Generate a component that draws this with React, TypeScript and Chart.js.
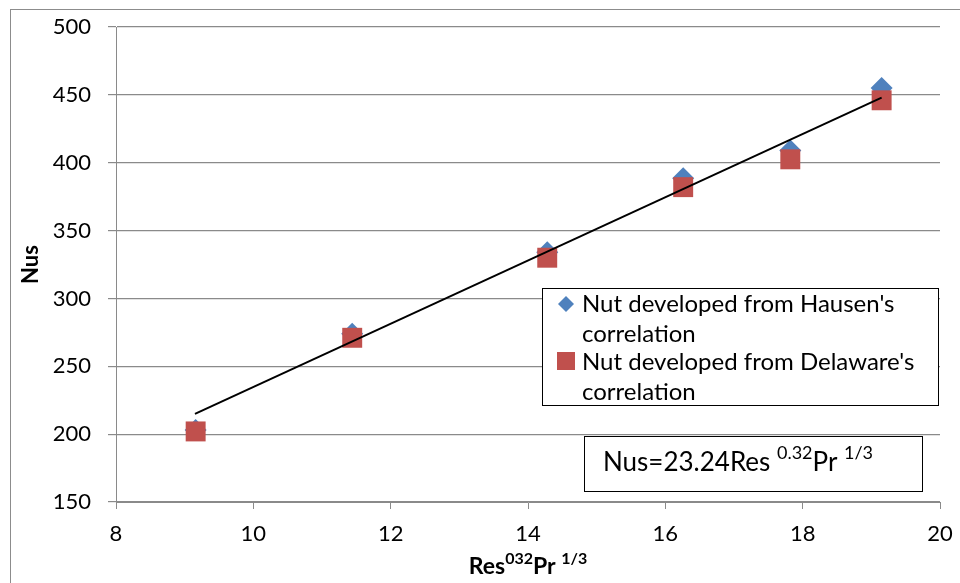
import React, { useEffect, useRef } from "react";
import { Chart, registerables } from "chart.js";

Chart.register(...registerables);

// ---- data ----
const xValues = [9.16, 11.44, 14.28, 16.26, 17.82, 19.15];
const hausenNus = [203, 274, 334, 388.5, 409, 455];
const delawareNus = [202, 271, 330, 382, 402.5, 446];
const trendX = [9.15, 19.15];
const trendNus = [215, 448];
const xMin = 8;
const xMax = 20;
const xStep = 2;
const yMin = 150;
const yMax = 500;
const yStep = 50;
const seriesNames = ["Nut developed from Hausen's", "Nut developed from Delaware's"];
const seriesNames2 = ["correlation", "correlation"];
const equationParts = ["Nus=23.24Res ", "0.32", "Pr ", "1/3"];
const xTitleParts = ["Res", "032", "Pr ", "1/3"];
const yTitle = "Nus";

const BLUE = "#4F81BD";
const RED = "#C0504D";
const GRID = "#8a8a8a";
const FONT = "Lato, 'Liberation Sans', sans-serif";

type Part = { text: string; size: number; rise: number; bold?: boolean };

function richWidth(ctx: CanvasRenderingContext2D, parts: Part[]) {
  let w = 0;
  for (const p of parts) {
    ctx.font = `${p.bold ? "bold " : ""}${p.size}px ${FONT}`;
    w += ctx.measureText(p.text).width;
  }
  return w;
}

function drawRich(ctx: CanvasRenderingContext2D, x: number, baseline: number, parts: Part[]) {
  let cx = x;
  ctx.textBaseline = "alphabetic";
  ctx.textAlign = "left";
  for (const p of parts) {
    ctx.font = `${p.bold ? "bold " : ""}${p.size}px ${FONT}`;
    ctx.fillText(p.text, cx, baseline - p.rise);
    cx += ctx.measureText(p.text).width;
  }
}

const overlayPlugin = {
  id: "overlay",
  afterDraw(chart: any) {
    const ctx: CanvasRenderingContext2D = chart.ctx;
    const area = chart.chartArea;
    ctx.save();

    // outer chart border
    ctx.strokeStyle = "#8c8c8c";
    ctx.lineWidth = 1;
    ctx.strokeRect(10.5, 9.5, 1000, 1000);

    ctx.fillStyle = "#000";

    // y axis title
    ctx.save();
    ctx.translate(38, (area.top + area.bottom) / 2);
    ctx.rotate(-Math.PI / 2);
    ctx.font = `bold 22px ${FONT}`;
    ctx.textAlign = "center";
    ctx.textBaseline = "alphabetic";
    ctx.fillText(yTitle, 0, 0);
    ctx.restore();

    // x axis title
    const xParts: Part[] = [
      { text: xTitleParts[0], size: 23, rise: 0, bold: true },
      { text: xTitleParts[1], size: 16, rise: 10, bold: true },
      { text: xTitleParts[2], size: 23, rise: 0, bold: true },
      { text: xTitleParts[3], size: 16, rise: 10, bold: true },
    ];
    const xw = richWidth(ctx, xParts);
    drawRich(ctx, (area.left + area.right) / 2 - xw / 2, 574, xParts);

    // legend box
    ctx.fillStyle = "#fff";
    ctx.fillRect(543, 289, 396, 117);
    ctx.strokeStyle = "#000";
    ctx.lineWidth = 1;
    ctx.strokeRect(542.5, 288.5, 396, 117);

    // legend markers
    ctx.fillStyle = BLUE;
    ctx.beginPath();
    ctx.moveTo(566, 296);
    ctx.lineTo(574, 304);
    ctx.lineTo(566, 312);
    ctx.lineTo(558, 304);
    ctx.closePath();
    ctx.fill();
    ctx.fillStyle = RED;
    ctx.fillRect(557, 352, 18, 18);

    ctx.fillStyle = "#000";
    ctx.font = `24px ${FONT}`;
    ctx.textAlign = "left";
    ctx.textBaseline = "middle";
    ctx.fillText(seriesNames[0], 582, 304);
    ctx.fillText(seriesNames2[0], 582, 334);
    ctx.fillText(seriesNames[1], 582, 362);
    ctx.fillText(seriesNames2[1], 582, 392);

    // equation box
    ctx.fillStyle = "#fff";
    ctx.fillRect(585, 437, 338, 55);
    ctx.strokeStyle = "#000";
    ctx.strokeRect(584.5, 436.5, 338, 55);
    ctx.fillStyle = "#000";
    const eqParts: Part[] = [
      { text: equationParts[0], size: 26, rise: 0 },
      { text: equationParts[1], size: 18, rise: 12 },
      { text: equationParts[2], size: 26, rise: 0 },
      { text: equationParts[3], size: 18, rise: 12 },
    ];
    drawRich(ctx, 603, 471, eqParts);

    ctx.restore();
  },
};

export default function App() {
  const canvasRef = useRef<HTMLCanvasElement | null>(null);

  useEffect(() => {
    const canvas = canvasRef.current;
    if (!canvas) return;
    const chart = new Chart(canvas, {
      type: "scatter",
      data: {
        datasets: [
          {
            label: "trend",
            data: trendX.map((x, i) => ({ x, y: trendNus[i] })),
            showLine: true,
            borderColor: "#000",
            borderWidth: 2,
            pointRadius: 0,
            order: 0,
          },
          {
            label: seriesNames[1] + " " + seriesNames2[1],
            data: xValues.map((x, i) => ({ x, y: delawareNus[i] })),
            pointStyle: "rect",
            pointRadius: 14.1,
            backgroundColor: RED,
            borderColor: RED,
            borderWidth: 0,
            order: 1,
          },
          {
            label: seriesNames[0] + " " + seriesNames2[0],
            data: xValues.map((x, i) => ({ x, y: hausenNus[i] })),
            pointStyle: "rectRot",
            pointRadius: 11,
            backgroundColor: BLUE,
            borderColor: BLUE,
            borderWidth: 0,
            order: 2,
          },
        ],
      },
      options: {
        animation: false,
        responsive: false,
        layout: { padding: { left: 0, right: 20, top: 27, bottom: 0 } },
        plugins: {
          legend: { display: false },
          tooltip: { enabled: false },
        },
        scales: {
          x: {
            type: "linear",
            min: xMin,
            max: xMax,
            ticks: { stepSize: xStep, color: "#000", font: { family: FONT, size: 22 }, padding: 12 },
            grid: { drawOnChartArea: false, drawTicks: true, tickLength: 7, color: GRID },
            border: { display: true, color: GRID, width: 1 },
            afterFit: (s: any) => {
              s.height = 81;
              s.paddingLeft = 0;
              s.paddingRight = 0;
            },
          },
          y: {
            type: "linear",
            min: yMin,
            max: yMax,
            ticks: { stepSize: yStep, color: "#000", font: { family: FONT, size: 22 }, padding: 17 },
            grid: { drawOnChartArea: true, drawTicks: true, tickLength: 8, color: GRID, lineWidth: 1.2 },
            border: { display: true, color: GRID, width: 1 },
            afterFit: (s: any) => {
              s.width = 116;
              s.paddingTop = 0;
              s.paddingBottom = 0;
            },
          },
        },
      },
      plugins: [overlayPlugin],
    });
    return () => chart.destroy();
  }, []);

  return (
    <div style={{ position: "fixed", left: 0, top: 0, width: 960, height: 583, background: "#fff", overflow: "hidden" }}>
      <canvas ref={canvasRef} width={960} height={583} style={{ display: "block" }} />
    </div>
  );
}
